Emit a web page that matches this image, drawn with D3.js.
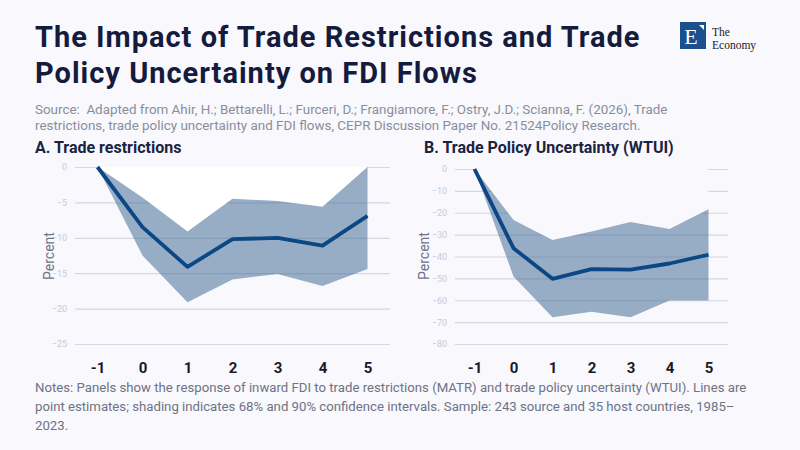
<!DOCTYPE html>
<html>
<head>
<meta charset="utf-8">
<script src="https://cdn.jsdelivr.net/npm/d3@7"></script>
<style>
  body { margin: 0; background: #f8f8fd; }
  svg { display: block; }
</style>
</head>
<body>
<div id="chart"></div>
<script>
// horizons (years after the shock)
var horizons = ["-1", "0", "1", "2", "3", "4", "5"];

// panel A: trade restrictions
var restrMean  = [0, -8.5, -14.1, -10.2, -10.0, -11.1, -6.9];
var restrUpper = [0, -4.3, -9.1, -4.5, -4.8, -5.6, 0];
var restrLower = [0, -12.5, -19.1, -15.9, -15.1, -16.8, -14.4];
var restrTicks = [0, -5, -10, -15, -20, -25];

// panel B: trade policy uncertainty
var wtuiMean  = [0, -36.2, -50.2, -45.8, -46.0, -43.2, -39.2];
var wtuiUpper = [0, -23.3, -32.4, -28.6, -24.2, -27.4, -18.4];
var wtuiLower = [0, -49.1, -67.8, -65.2, -67.8, -60.1, -60.1];
var wtuiTicks = [0, -10, -20, -30, -40, -50, -60, -70, -80];

var W = 800, H = 450;
var bg = "#f8f8fd";
var navy = "#141b3d";

var svg = d3.select("#chart").append("svg")
    .attr("width", W).attr("height", H);

svg.append("rect").attr("width", W).attr("height", H).attr("fill", bg);

// title + source
var title = svg.append("text")
    .attr("font-family", "Roboto, sans-serif")
    .attr("font-weight", 700)
    .attr("font-size", 29)
    .attr("letter-spacing", 1)
    .attr("fill", navy);
title.append("tspan").attr("x", 35).attr("y", 47).text("The Impact of Trade Restrictions and Trade");
title.append("tspan").attr("x", 35).attr("y", 83).text("Policy Uncertainty on FDI Flows");

var source = svg.append("text")
    .attr("font-family", "Roboto, sans-serif")
    .attr("font-size", 13.4)
    .attr("fill", "#8a8e9c")
    .style("white-space", "pre");
source.append("tspan").attr("x", 35).attr("y", 114)
    .text("Source:  Adapted from Ahir, H.; Bettarelli, L.; Furceri, D.; Frangiamore, F.; Ostry, J.D.; Scianna, F. (2026), Trade");
source.append("tspan").attr("x", 35).attr("y", 130)
    .text("restrictions, trade policy uncertainty and FDI flows, CEPR Discussion Paper No. 21524Policy Research.");

// logo
var logo = svg.append("g");
logo.append("rect").attr("x", 680).attr("y", 22).attr("width", 26).attr("height", 27).attr("fill", "#1b4f8d");
logo.append("text").attr("x", 691).attr("y", 44)
    .attr("text-anchor", "middle")
    .attr("font-family", "Liberation Serif, serif")
    .attr("font-size", 22).attr("fill", "#fff").text("E");
logo.append("path").attr("d", "M699,25 L704,25 L704,30 Z").attr("fill", "#fff");
logo.append("text").attr("x", 712).attr("y", 35.5)
    .attr("font-family", "Liberation Serif, serif")
    .attr("font-size", 11.5).attr("fill", "#222").text("The");
logo.append("text").attr("x", 712).attr("y", 49)
    .attr("font-family", "Liberation Serif, serif")
    .attr("font-size", 11.5).attr("fill", "#222").text("Economy");

function panel(opt) {
    var g = svg.append("g");

    var x = d3.scalePoint().domain(horizons).range([opt.left, opt.right]).padding(0.5);
    var y = d3.scaleLinear().domain(opt.domain).range([344, opt.top]);

    g.append("text")
        .attr("x", opt.titleX).attr("y", 153)
        .attr("font-family", "Roboto, sans-serif")
        .attr("font-weight", 700).attr("font-size", 16)
        .attr("fill", "#1a2340")
        .text(opt.title);

    // grid + y labels
    var yAxis = g.append("g")
        .attr("transform", "translate(" + opt.left + ",0)")
        .call(d3.axisLeft(y).tickValues(opt.ticks).tickSize(-(opt.right - opt.left)).tickPadding(8));
    yAxis.select(".domain").remove();
    yAxis.selectAll(".tick line").attr("stroke", "#d3d8e3").attr("stroke-width", 1.2);
    yAxis.selectAll(".tick text")
        .attr("font-family", "Roboto, sans-serif")
        .attr("font-size", 9).attr("fill", "#c5ccda");

    var rows = horizons.map(function(h, i) {
        return { h: h, m: opt.mean[i], u: opt.upper[i], l: opt.lower[i] };
    });

    // space above the band
    g.append("path")
        .datum(rows)
        .attr("fill", opt.gapFill)
        .attr("d", d3.area()
            .x(function(d) { return x(d.h); })
            .y0(function(d) { return y(0); })
            .y1(function(d) { return y(d.u); }));

    // confidence band
    g.append("path")
        .datum(rows)
        .attr("fill", "#36628d")
        .attr("fill-opacity", 0.5)
        .attr("d", d3.area()
            .x(function(d) { return x(d.h); })
            .y0(function(d) { return y(d.l); })
            .y1(function(d) { return y(d.u); }));

    // point estimate
    g.append("path")
        .datum(rows)
        .attr("fill", "none")
        .attr("stroke", "#0b4784")
        .attr("stroke-width", 3.8)
        .attr("stroke-linejoin", "round")
        .attr("d", d3.line()
            .x(function(d) { return x(d.h); })
            .y(function(d) { return y(d.m); }));

    var xAxis = g.append("g")
        .attr("transform", "translate(0,344)")
        .call(d3.axisBottom(x).tickSize(0).tickPadding(18));
    xAxis.select(".domain").remove();
    xAxis.selectAll(".tick text")
        .attr("font-family", "Roboto, sans-serif")
        .attr("font-weight", 700).attr("font-size", 15)
        .attr("fill", "#1a1a26");

    g.append("text")
        .attr("transform", "translate(" + opt.labelX + ",256) rotate(-90)")
        .attr("text-anchor", "middle")
        .attr("font-family", "Roboto, sans-serif")
        .attr("font-size", 14).attr("fill", "#6e7388")
        .text("Percent");
}

panel({
    title: "A. Trade restrictions", titleX: 35,
    left: 75, right: 390, top: 167, labelX: 54,
    domain: [-25, 0], ticks: restrTicks,
    mean: restrMean, upper: restrUpper, lower: restrLower,
    gapFill: "#ffffff"
});

panel({
    title: "B. Trade Policy Uncertainty (WTUI)", titleX: 424,
    left: 455, right: 728, top: 169, labelX: 429,
    domain: [-80, 0], ticks: wtuiTicks,
    mean: wtuiMean, upper: wtuiUpper, lower: wtuiLower,
    gapFill: bg
});

// notes
var notes = svg.append("text")
    .attr("font-family", "Roboto, sans-serif")
    .attr("font-size", 13.2)
    .attr("fill", "#6e7385");
notes.append("tspan").attr("x", 35).attr("y", 392)
    .text("Notes: Panels show the response of inward FDI to trade restrictions (MATR) and trade policy uncertainty (WTUI). Lines are");
notes.append("tspan").attr("x", 35).attr("y", 411)
    .text("point estimates; shading indicates 68% and 90% confidence intervals. Sample: 243 source and 35 host countries, 1985\u2013");
notes.append("tspan").attr("x", 35).attr("y", 430)
    .text("2023.");
</script>
</body>
</html>
